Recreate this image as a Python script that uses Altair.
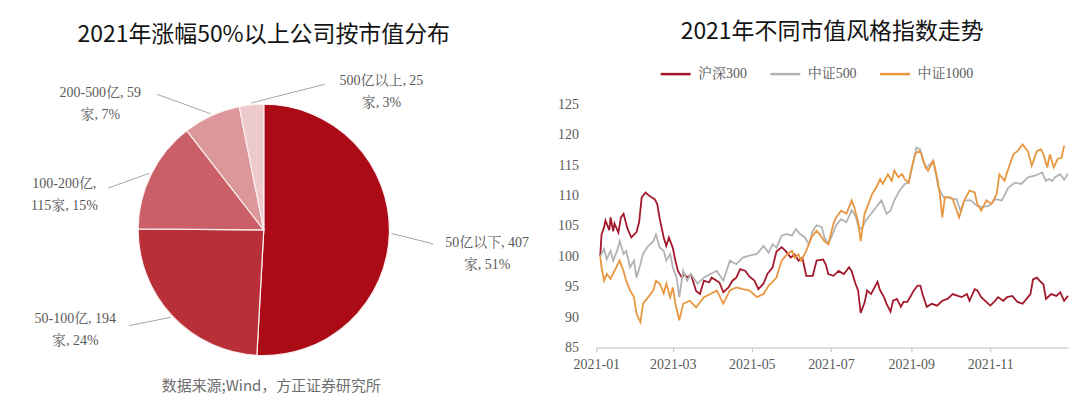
import math
import altair as alt
import pandas as pd

# ---------------- data: pie ----------------
cap_bins = ["50亿以下", "50-100亿", "100-200亿", "200-500亿", "500亿以上"]
cap_counts = [407, 194, 115, 59, 25]
cap_labels = [
    "50亿以下, 407\n家, 51%",
    "50-100亿, 194\n家, 24%",
    "100-200亿,\n115家, 15%",
    "200-500亿, 59\n家, 7%",
    "500亿以上, 25\n家, 3%",
]
cap_colors = ["#AA0B17", "#B92F38", "#CA5F67", "#DC979B", "#EDCACC"]

# ---------------- data: index lines ----------------
series_names = ["沪深300", "中证500", "中证1000"]
series_colors = ["#A3192B", "#B3B3B3", "#E8963F"]

hs300_dates = ["01-04", "01-05", "01-07", "01-08", "01-11", "01-12", "01-14", "01-15", "01-18", "01-20",
               "01-22", "01-25", "01-28", "02-01", "02-03", "02-05", "02-08", "02-10", "02-12", "02-15",
               "02-17", "02-19", "02-22", "02-24", "02-26", "03-01", "03-03", "03-05", "03-08", "03-10",
               "03-12", "03-15", "03-19", "03-22", "03-25", "03-29", "03-31", "04-03", "04-06", "04-09",
               "04-13", "04-16", "04-19", "04-22", "04-26", "04-29", "05-03", "05-06", "05-10", "05-13",
               "05-17", "05-20", "05-24", "05-27", "05-31", "06-03", "06-06", "06-09", "06-12", "06-17",
               "06-20", "06-25", "06-27", "06-29", "07-03", "07-07", "07-11", "07-15", "07-17", "07-20",
               "07-22", "07-24", "07-27", "07-29", "08-01", "08-03", "08-06", "08-08", "08-11", "08-13",
               "08-16", "08-18", "08-21", "08-24", "08-26", "08-29", "09-01", "09-03", "09-06", "09-08",
               "09-10", "09-13", "09-17", "09-21", "09-25", "09-29", "10-03", "10-07", "10-10", "10-14",
               "10-16", "10-20", "10-22", "10-25", "10-29", "11-01", "11-04", "11-07", "11-11", "11-14",
               "11-18", "11-22", "11-26", "11-29", "12-02", "12-04", "12-07", "12-09", "12-12", "12-14",
               "12-18", "12-22", "12-25", "12-28", "12-31"]
hs300_values = [100.0, 103.6, 104.8, 105.9, 104.3, 106.4, 104.1, 105.4, 103.9, 106.4,
                107.0, 104.6, 103.1, 104.0, 105.6, 109.7, 110.5, 110.1, 109.8, 109.4,
                108.6, 106.1, 103.1, 101.7, 103.1, 101.4, 99.3, 97.6, 96.5, 97.1,
                96.5, 97.0, 94.3, 93.8, 96.0, 95.7, 96.5, 96.1, 95.7, 94.1,
                94.9, 96.0, 96.5, 97.9, 97.6, 96.7, 96.0, 94.6, 95.5, 97.1,
                98.2, 100.8, 101.5, 100.9, 99.8, 100.3, 99.3, 99.8, 96.8, 96.8,
                99.3, 99.5, 98.7, 97.1, 96.8, 97.6, 97.1, 98.2, 97.6, 95.5,
                94.4, 90.7, 92.4, 94.4, 93.8, 94.6, 95.8, 94.4, 93.3, 92.2,
                90.9, 92.7, 93.0, 91.7, 92.5, 92.5, 93.6, 94.4, 95.2, 95.2,
                93.6, 91.7, 92.2, 91.9, 92.7, 93.0, 93.8, 93.5, 93.3, 93.8,
                92.7, 94.6, 94.4, 93.3, 92.5, 91.9, 92.5, 93.3, 92.7, 93.3,
                93.5, 92.5, 92.2, 93.0, 93.8, 96.2, 96.5, 96.0, 95.4, 93.0,
                93.8, 93.5, 94.1, 92.7, 93.5]

csi500_dates = ["01-04", "01-05", "01-07", "01-09", "01-12", "01-14", "01-17", "01-19", "01-22", "01-24",
                "01-27", "01-30", "02-01", "02-04", "02-06", "02-10", "02-14", "02-16", "02-19", "02-22",
                "02-24", "02-27", "03-01", "03-04", "03-06", "03-09", "03-12", "03-15", "03-20", "03-25",
                "03-30", "04-04", "04-09", "04-14", "04-19", "04-24", "04-29", "05-05", "05-10", "05-14",
                "05-17", "05-20", "05-24", "05-28", "06-01", "06-04", "06-07", "06-11", "06-14", "06-17",
                "06-20", "06-24", "06-26", "06-29", "07-03", "07-05", "07-09", "07-13", "07-17", "07-20",
                "07-23", "07-25", "07-28", "08-01", "08-05", "08-09", "08-13", "08-16", "08-19", "08-23",
                "08-27", "08-30", "09-01", "09-05", "09-08", "09-10", "09-13", "09-18", "09-22", "09-26",
                "09-30", "10-03", "10-06", "10-09", "10-12", "10-17", "10-22", "10-26", "10-31", "11-05",
                "11-10", "11-15", "11-20", "11-25", "11-30", "12-06", "12-11", "12-14", "12-16", "12-19",
                "12-21", "12-25", "12-28", "12-31"]
csi500_values = [100.0, 100.4, 101.2, 99.5, 100.9, 99.3, 100.9, 102.5, 100.4, 100.9,
                 98.2, 99.3, 96.5, 98.7, 100.4, 101.7, 102.5, 103.6, 101.4, 100.9,
                 99.3, 100.4, 98.2, 96.5, 93.3, 97.6, 96.0, 97.1, 95.5, 96.5,
                 97.1, 97.6, 96.0, 99.3, 98.7, 99.8, 100.1, 100.4, 101.7, 100.6,
                 102.0, 101.4, 103.4, 103.7, 103.4, 104.5, 103.7, 103.1, 102.0, 104.2,
                 105.1, 104.8, 103.1, 102.0, 104.0, 105.1, 106.1, 105.6, 107.6, 106.6,
                 104.5, 104.7, 105.9, 107.0, 108.1, 109.2, 107.0, 107.5, 109.2, 110.8,
                 111.9, 112.1, 114.1, 117.9, 117.6, 115.7, 114.6, 115.7, 111.3, 109.7,
                 109.7, 109.4, 109.4, 107.5, 109.2, 109.2, 108.3, 108.1, 108.3, 109.4,
                 109.2, 111.3, 112.1, 111.9, 113.0, 113.3, 113.8, 112.4, 112.7, 112.4,
                 113.0, 113.5, 112.6, 113.6]

csi1000_dates = ["01-04", "01-05", "01-07", "01-09", "01-12", "01-15", "01-19", "01-22", "01-24", "01-27",
                 "01-30", "02-01", "02-04", "02-06", "02-10", "02-14", "02-16", "02-19", "02-22", "02-24",
                 "02-27", "03-01", "03-03", "03-06", "03-09", "03-14", "03-19", "03-25", "03-30", "04-04",
                 "04-09", "04-14", "04-19", "04-24", "04-29", "05-05", "05-10", "05-14", "05-17", "05-20",
                 "05-24", "05-28", "06-01", "06-03", "06-06", "06-08", "06-12", "06-16", "06-20", "06-22",
                 "06-26", "06-29", "07-03", "07-05", "07-09", "07-13", "07-17", "07-19", "07-22", "07-24",
                 "07-27", "07-29", "08-02", "08-05", "08-08", "08-10", "08-14", "08-17", "08-19", "08-22",
                 "08-25", "08-27", "08-30", "09-01", "09-04", "09-07", "09-09", "09-12", "09-14", "09-18",
                 "09-21", "09-23", "09-25", "09-27", "10-01", "10-03", "10-08", "10-12", "10-16", "10-20",
                 "10-22", "10-25", "10-29", "11-02", "11-06", "11-08", "11-12", "11-14", "11-19", "11-22",
                 "11-26", "11-30", "12-03", "12-07", "12-10", "12-12", "12-15", "12-17", "12-20", "12-23",
                 "12-26", "12-28"]
csi1000_values = [100.0, 98.2, 96.0, 97.1, 96.3, 97.6, 99.3, 97.6, 96.0, 94.4,
                  93.3, 90.6, 89.2, 92.2, 93.3, 94.4, 96.0, 95.5, 93.9, 95.5,
                  93.3, 94.9, 92.2, 89.5, 92.2, 92.7, 91.6, 93.3, 93.8, 94.4,
                  92.2, 94.4, 94.9, 94.6, 94.4, 93.3, 93.8, 95.2, 95.8, 96.5,
                  99.3, 100.3, 100.9, 99.8, 100.3, 99.3, 100.9, 103.1, 104.2, 103.7,
                  102.5, 102.0, 105.4, 106.4, 107.5, 107.0, 109.2, 108.1, 105.6, 102.5,
                  107.0, 108.1, 110.3, 111.3, 112.7, 111.9, 113.5, 112.4, 114.1, 113.0,
                  113.5, 112.7, 112.1, 114.1, 116.8, 117.3, 116.8, 114.6, 114.1, 115.7,
                  113.0, 110.3, 106.4, 109.7, 109.7, 109.4, 106.4, 109.2, 110.8, 110.5,
                  108.6, 107.5, 109.2, 108.6, 110.3, 113.5, 112.4, 113.8, 116.8, 117.3,
                  118.4, 117.3, 114.9, 117.3, 117.6, 116.8, 114.6, 116.8, 114.6, 116.0,
                  116.2, 118.2]

x_tick_months = [1, 3, 5, 7, 9, 11]
y_ticks = [85, 90, 95, 100, 105, 110, 115, 120, 125]

# ---------------- layout / style ----------------
SERIF = "Liberation Serif, Noto Serif CJK SC, Noto Sans CJK SC, serif"
SANS = "Noto Sans CJK SC, sans-serif"
TXT = "#595959"

PIE_W, PIE_H, R = 513, 252, 126
# label placement (pixels from pie centre, y downwards; y is the first text line)
LEADER_END = {"50亿以下": (170, 14), "50-100亿": (-135, 96), "100-200亿": (-156, -42),
              "200-500亿": (-107, -136), "500亿以上": (61, -146)}
LABEL_ANCHOR = {"50亿以下": (224, 13), "50-100亿": (-189, 89), "100-200亿": (-200, -46),
                "200-500亿": (-164, -137), "500亿以上": (118, -149)}

total = sum(cap_counts)
pie_rows, lead_rows, lab_rows = [], [], []
cum = 0
for i, (b, c, lab) in enumerate(zip(cap_bins, cap_counts, cap_labels)):
    mid = 2 * math.pi * (cum + c / 2) / total
    cum += c
    pie_rows.append({"bin": b, "count": c, "idx": i})
    ex, ey = LEADER_END[b]
    lead_rows.append({"bin": b, "x": (R + 2) * math.sin(mid), "y": -(R + 2) * math.cos(mid),
                      "x2": ex, "y2": ey})
    tx, ty = LABEL_ANCHOR[b]
    lab_rows.append({"bin": b, "x": tx, "y": ty, "label": lab})

pie_df = pd.DataFrame(pie_rows)
lead_df = pd.DataFrame(lead_rows)
lab_df = pd.DataFrame(lab_rows)

x_enc = alt.X("x:Q", scale=alt.Scale(domain=[-PIE_W / 2, PIE_W / 2], nice=False, zero=False),
              axis=alt.Axis(title="数据来源;Wind，方正证券研究所", labels=False, ticks=False,
                            domain=False, grid=False, titleFont=SANS, titleFontSize=15,
                            titleFontWeight="normal", titleColor="#6E6E6E", titlePadding=23,
                            titleX=PIE_W / 2 + 7))
y_enc = alt.Y("y:Q", scale=alt.Scale(domain=[-PIE_H / 2, PIE_H / 2], reverse=True, nice=False, zero=False),
              axis=None)

arc = alt.Chart(pie_df).mark_arc(outerRadius=R, stroke="#FBEFEF", strokeWidth=1.2).encode(
    theta=alt.Theta("count:Q", stack=True),
    color=alt.Color("bin:N", scale=alt.Scale(domain=cap_bins, range=cap_colors), legend=None),
    order=alt.Order("idx:Q"),
)
leaders = alt.Chart(lead_df).mark_rule(color="#A6A6A6", strokeWidth=1).encode(
    x=x_enc, y=y_enc, x2="x2:Q", y2="y2:Q"
)
labels = alt.Chart(lab_df).mark_text(lineBreak="\n", lineHeight=22, font=SERIF, fontSize=14,
                                     color=TXT, align="center", baseline="middle").encode(
    x=x_enc, y=y_enc, text="label:N"
)
left = alt.layer(arc, leaders, labels).properties(
    width=PIE_W, height=PIE_H,
    title=alt.TitleParams("2021年涨幅50%以上公司按市值分布", font=SANS, fontSize=23,
                          fontWeight="normal", color="#141414", anchor="middle", offset=27),
)

# line data frame
frames = []
for name, ds, vs in [(series_names[0], hs300_dates, hs300_values),
                     (series_names[1], csi500_dates, csi500_values),
                     (series_names[2], csi1000_dates, csi1000_values)]:
    frames.append(pd.DataFrame({"date": ["2021-" + d for d in ds], "value": vs, "series": name}))
line_df = pd.concat(frames, ignore_index=True)

lines = alt.Chart(line_df).mark_line(strokeWidth=1.8).encode(
    x=alt.X("date:T",
            scale=alt.Scale(domain=[alt.DateTime(year=2021, month=1, date=1),
                                    alt.DateTime(year=2021, month=12, date=31)]),
            axis=alt.Axis(format="%Y-%m", title=None, grid=False, labelFlush=False,
                          values=[alt.DateTime(year=2021, month=m, date=1) for m in x_tick_months],
                          domainColor="#BFBFBF", tickColor="#BFBFBF", tickSize=4,
                          labelFont=SERIF, labelFontSize=14, labelColor=TXT, labelPadding=6)),
    y=alt.Y("value:Q", scale=alt.Scale(domain=[85, 125], nice=False, zero=False),
            axis=alt.Axis(values=y_ticks, title=None, grid=False, domain=False, ticks=False,
                          labelFont=SERIF, labelFontSize=14, labelColor=TXT, labelPadding=18)),
    color=alt.Color("series:N", scale=alt.Scale(domain=series_names, range=series_colors),
                    legend=alt.Legend(title=None, orient="none", legendX=63, legendY=-47,
                                      direction="horizontal", symbolType="stroke",
                                      symbolSize=900, symbolStrokeWidth=2.5,
                                      labelFont=SERIF, labelFontSize=14, labelColor=TXT,
                                      columnPadding=18, labelOffset=6)),
)
right = lines.properties(
    width=473, height=244,
    title=alt.TitleParams("2021年不同市值风格指数走势", font=SANS, fontSize=23,
                          fontWeight="normal", color="#141414", anchor="middle", offset=13),
)

chart = alt.hconcat(left, right, spacing=28).resolve_scale(
    color="independent", x="independent", y="independent"
).properties(
    padding={"left": 0, "top": 13, "right": 0, "bottom": 0}
).configure_view(strokeWidth=0)

chart.save("out.html", embed_options={"renderer": "svg", "actions": False})
